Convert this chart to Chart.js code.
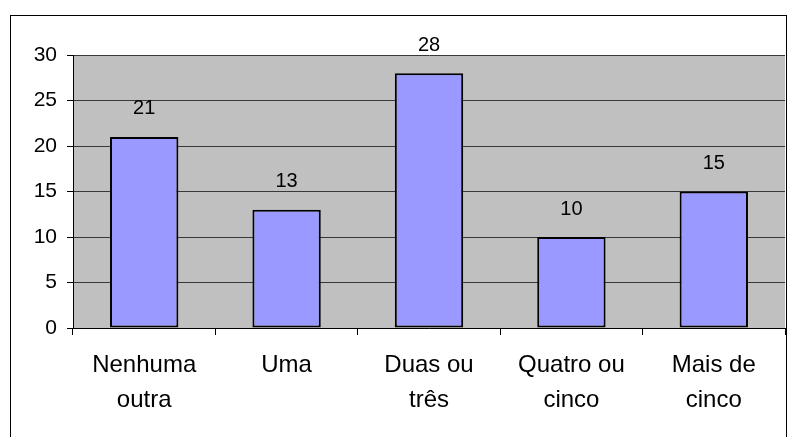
<!DOCTYPE html>
<html>
<head>
<meta charset="utf-8">
<script src="https://cdn.jsdelivr.net/npm/chart.js@4.4.1/dist/chart.umd.min.js"></script>
<style>
    html, body { margin: 0; padding: 0; background: #fff; }
    #wrap { width: 791px; height: 437px; }
</style>
</head>
<body>
<div id="wrap"><canvas id="barChart" width="791" height="437"></canvas></div>
<script>
// data
const categories = [["Nenhuma", "outra"], ["Uma"], ["Duas ou", "três"], ["Quatro ou", "cinco"], ["Mais de", "cinco"]];
const counts = [21, 13, 28, 10, 15];
const yTicks = [0, 5, 10, 15, 20, 25, 30];

const fontFamily = "'Liberation Sans', Arial, sans-serif";

// gray plot area + outer frame
const frame = {
    id: 'frame',
    beforeDraw(chart) {
        const { ctx, chartArea } = chart;
        ctx.save();
        ctx.fillStyle = '#c0c0c0';
        ctx.fillRect(chartArea.left, chartArea.top, chartArea.right - chartArea.left, chartArea.bottom - chartArea.top);
        ctx.restore();
    },
    afterDraw(chart) {
        const ctx = chart.ctx;
        ctx.save();
        ctx.strokeStyle = '#000';
        ctx.lineWidth = 1;
        ctx.strokeRect(10.5, 15.5, 776, 440);
        ctx.restore();
    }
};

// value labels above bars
const valueLabels = {
    id: 'valueLabels',
    afterDatasetsDraw(chart) {
        const { ctx } = chart;
        const meta = chart.getDatasetMeta(0);
        ctx.save();
        ctx.font = '20px ' + fontFamily;
        ctx.fillStyle = '#000';
        ctx.textAlign = 'center';
        ctx.textBaseline = 'middle';
        meta.data.forEach((bar, i) => {
            ctx.fillText(String(counts[i]), bar.x, bar.y - 28);
        });
        ctx.restore();
    }
};

new Chart(document.getElementById('barChart'), {
    type: 'bar',
    data: {
        labels: categories,
        datasets: [{
            data: counts,
            backgroundColor: '#9999ff',
            borderColor: '#000',
            borderWidth: 2,
            borderSkipped: false,
            categoryPercentage: 1,
            barPercentage: 0.48
        }]
    },
    options: {
        responsive: false,
        animation: false,
        layout: { padding: { left: 0, right: 6, top: 55, bottom: 0 } },
        plugins: {
            legend: { display: false },
            tooltip: { enabled: false }
        },
        scales: {
            x: {
                grid: {
                    offset: true,
                    drawOnChartArea: false,
                    drawTicks: true,
                    tickLength: 7,
                    tickColor: '#000'
                },
                border: { color: '#000', width: 1 },
                ticks: {
                    color: '#000',
                    padding: 13,
                    maxRotation: 0,
                    autoSkip: false,
                    font: { family: fontFamily, size: 24, lineHeight: 1.45 }
                },
                afterFit(scale) { scale.height = 109; }
            },
            y: {
                min: 0,
                max: 30,
                afterBuildTicks(scale) { scale.ticks = yTicks.map(v => ({ value: v })); },
                grid: {
                    color: '#383838',
                    tickColor: '#000',
                    tickLength: 6
                },
                border: { color: '#000', width: 1 },
                ticks: {
                    color: '#000',
                    padding: 10,
                    font: { family: fontFamily, size: 21 }
                },
                afterFit(scale) { scale.width = 73; }
            }
        }
    },
    plugins: [frame, valueLabels]
});
</script>
</body>
</html>
